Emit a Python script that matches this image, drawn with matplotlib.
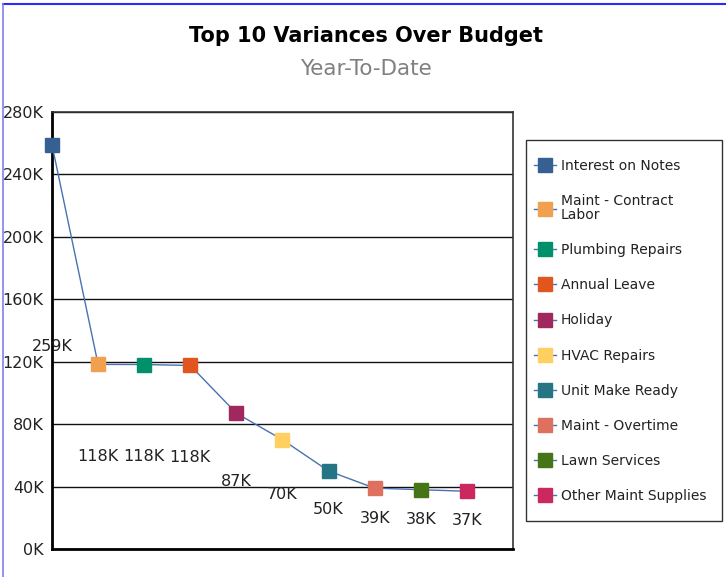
import textwrap

import matplotlib.pyplot as plt
from matplotlib.lines import Line2D
from matplotlib.patches import Rectangle

# ---- Data ----
categories = [
    "Interest on Notes",
    "Maint - Contract Labor",
    "Plumbing Repairs",
    "Annual Leave",
    "Holiday",
    "HVAC Repairs",
    "Unit Make Ready",
    "Maint - Overtime",
    "Lawn Services",
    "Other Maint Supplies",
]
variances = [259000, 118300, 118200, 117600, 87000, 70000, 50000, 39000, 38000, 37000]
marker_colors = [
    "#376092", "#F0A04E", "#00906A", "#E0561E", "#A0285F",
    "#FFD060", "#267585", "#DE7060", "#457516", "#CC2860",
]
y_ticks = [0, 40000, 80000, 120000, 160000, 200000, 240000, 280000]

line_color = "#4A72B0"
text_color = "#222222"

plt.rcParams["font.family"] = ["DejaVu Sans"]

fig = plt.figure(figsize=(7.26, 5.77), dpi=100)
ax = fig.add_axes([0.0716, 0.0485, 0.635, 0.7574])

xs = list(range(len(variances)))

# ---- Connecting line ----
ax.plot(xs, variances, color=line_color, lw=1, zorder=3, clip_on=False)

# ---- One marker per category (gives the legend its handles) ----
for x, v, name, c in zip(xs, variances, categories, marker_colors):
    ax.plot([x], [v], marker="s", ms=10, color=line_color, lw=1,
            markerfacecolor=c, markeredgecolor=c,
            label=textwrap.fill(name, 20), zorder=4, clip_on=False)
    ax.text(x, v / 2, f"{v / 1000:.0f}K", ha="center", va="center",
            fontsize=11.5, color=text_color, zorder=5)

ax.set_xlim(0, len(variances))
ax.set_ylim(0, 280000)
ax.set_yticks(y_ticks)
ax.set_yticklabels([f"{t // 1000}K" for t in y_ticks])
ax.set_xticks([])
ax.tick_params(axis="y", length=0, labelsize=11.5, labelcolor=text_color, pad=6)
ax.grid(axis="y", color="#111111", lw=1)
ax.set_axisbelow(True)

for side in ["left", "bottom"]:
    ax.spines[side].set_linewidth(2)
    ax.spines[side].set_color("black")
for side in ["top", "right"]:
    ax.spines[side].set_linewidth(1.2)
    ax.spines[side].set_color("#333333")

# ---- Titles ----
fig.text(0.504, 0.938, "Top 10 Variances Over Budget", ha="center", va="center",
         fontsize=15, fontweight="bold", color="black")
fig.text(0.504, 0.880, "Year-To-Date", ha="center", va="center",
         fontsize=15.5, color="#808080")

# ---- Legend (box drawn separately so the padding can be set freely) ----
fig.add_artist(Rectangle((0.7245, 0.097), 0.27, 0.66, transform=fig.transFigure,
                         facecolor="white", edgecolor="#333333", lw=1, zorder=1))
leg = fig.legend(loc="upper left", bbox_to_anchor=(0.7355, 0.7244),
                 bbox_transform=fig.transFigure, fontsize=10,
                 handlelength=1.6, handletextpad=0.35, labelspacing=1.52,
                 borderpad=0, borderaxespad=0, frameon=False)
leg.set_zorder(2)
for t in leg.get_texts():
    t.set_color(text_color)
    t.set_linespacing(1.0)

# ---- Outer frame edges ----
fig.add_artist(Line2D([0.004, 1], [0.993, 0.993], color="#2A2AFF", lw=1.5,
                      transform=fig.transFigure))
fig.add_artist(Line2D([0.004, 0.004], [0, 0.993], color="#8080F0", lw=1.2,
                      transform=fig.transFigure))

fig.savefig("out.png", dpi=100)
